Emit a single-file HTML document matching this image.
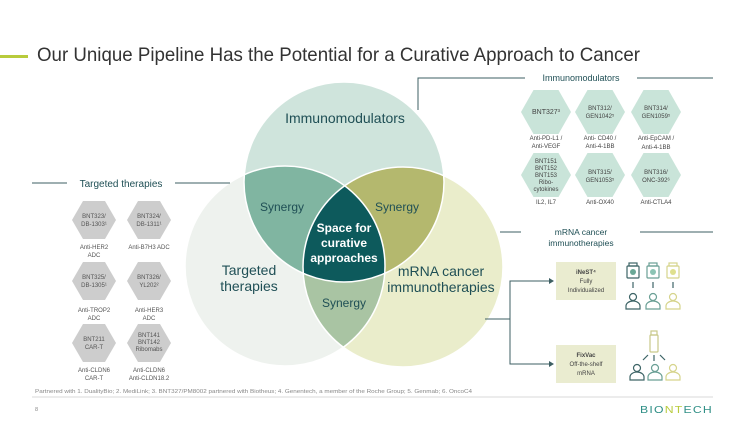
<!DOCTYPE html>
<html><head><meta charset="utf-8"><style>
html,body{margin:0;padding:0;background:#fff;}
svg{display:block;font-family:"Liberation Sans",sans-serif;}
</style></head><body>
<svg width="750" height="422" viewBox="0 0 750 422" xmlns="http://www.w3.org/2000/svg">
<defs>
<clipPath id="cT"><circle cx="344" cy="182" r="100"/></clipPath>
<clipPath id="cL"><circle cx="285" cy="266" r="100"/></clipPath>
<clipPath id="cR"><circle cx="403" cy="267" r="100"/></clipPath>
<g id="hexG"><polygon points="-22,0 -11,-19 11,-19 22,0 11,19 -11,19" fill="#cdcdcd"/></g>
<g id="hexM"><polygon points="-25,0 -12.5,-22 12.5,-22 25,0 12.5,22 -12.5,22" fill="#c9e4d9"/></g>
</defs>
<rect x="0" y="55" width="28" height="3" fill="#b8cb3c"/>
<text x="37" y="61" font-size="19.5" fill="#333" textLength="603" lengthAdjust="spacingAndGlyphs">Our Unique Pipeline Has the Potential for a Curative Approach to Cancer</text>

<circle cx="285" cy="266" r="100" fill="#eef2ee"/>
<circle cx="403" cy="267" r="100" fill="#eaedcb"/>
<circle cx="344" cy="182" r="100" fill="#cfe4dc"/>
<g clip-path="url(#cT)"><circle cx="285" cy="266" r="100" fill="#80b5a1"/><circle cx="403" cy="267" r="100" fill="#b4b86e"/></g>
<g clip-path="url(#cL)"><circle cx="403" cy="267" r="100" fill="#a9c4a3"/></g>
<g clip-path="url(#cT)"><g clip-path="url(#cL)"><circle cx="403" cy="267" r="100" fill="#0d5a5c"/></g></g>
<g fill="none" stroke="#fff" stroke-width="1.5"><circle cx="285" cy="266" r="100"/><circle cx="403" cy="267" r="100"/><circle cx="344" cy="182" r="100"/></g>
<g fill="#1f4f55" font-size="14" text-anchor="middle">
<text x="345" y="123">Immunomodulators</text>
<text x="249" y="275">Targeted</text><text x="249" y="291">therapies</text>
<text x="441" y="276">mRNA cancer</text><text x="441" y="292">immunotherapies</text>
</g>
<g fill="#1f4f55" font-size="12" text-anchor="middle">
<text x="282" y="211">Synergy</text><text x="397" y="211">Synergy</text><text x="344" y="307">Synergy</text>
</g>
<g fill="#fff" font-size="12" font-weight="bold" text-anchor="middle">
<text x="344" y="232">Space for</text><text x="344" y="247">curative</text><text x="344" y="262">approaches</text>
</g>

<g stroke="#3d5f63" stroke-width="1" fill="none">
<polyline points="418,110 418,78 525,78"/>
<line x1="637" y1="78" x2="713" y2="78"/>
<line x1="32" y1="183" x2="67" y2="183"/>
<line x1="175" y1="183" x2="230" y2="183"/>
<line x1="500" y1="232" x2="521" y2="232"/>
<line x1="640" y1="232" x2="713" y2="232"/>
<line x1="485" y1="319" x2="510" y2="319"/>
<polyline points="551,281 510,281 510,364 551,364"/>
</g>
<polygon points="549,278 554,281 549,284" fill="#3d5f63"/>
<polygon points="549,361 554,364 549,367" fill="#3d5f63"/>

<text x="581" y="81" font-size="9" fill="#1f4f55" text-anchor="middle">Immunomodulators</text>
<text x="121" y="187" font-size="10" fill="#1f4f55" text-anchor="middle">Targeted therapies</text>
<text x="581" y="235" font-size="8.5" fill="#1f4f55" text-anchor="middle">mRNA cancer</text>
<text x="581" y="246" font-size="8.5" fill="#1f4f55" text-anchor="middle">immunotherapies</text>

<g font-size="6" fill="#555" text-anchor="middle">
<use href="#hexG" x="94" y="220"/><use href="#hexG" x="149" y="220"/>
<use href="#hexG" x="94" y="281"/><use href="#hexG" x="149" y="281"/>
<use href="#hexG" x="94" y="343"/><use href="#hexG" x="149" y="343"/>
<text x="94" y="218">BNT323/</text><text x="94" y="226">DB-1303¹</text>
<text x="149" y="218">BNT324/</text><text x="149" y="226">DB-1311¹</text>
<text x="94" y="279">BNT325/</text><text x="94" y="287">DB-1305¹</text>
<text x="149" y="279">BNT326/</text><text x="149" y="287">YL202²</text>
<text x="94" y="341">BNT211</text><text x="94" y="349">CAR-T</text>
<text x="149" y="337">BNT141</text><text x="149" y="344">BNT142</text><text x="149" y="351">Ribomabs</text>
<text x="94" y="249">Anti-HER2</text><text x="94" y="257">ADC</text>
<text x="149" y="249">Anti-B7H3 ADC</text>
<text x="94" y="312">Anti-TROP2</text><text x="94" y="320">ADC</text>
<text x="149" y="312">Anti-HER3</text><text x="149" y="320">ADC</text>
<text x="94" y="372">Anti-CLDN6</text><text x="94" y="380">CAR-T</text>
<text x="149" y="372">Anti-CLDN6</text><text x="149" y="380">Anti-CLDN18.2</text>
</g>

<g font-size="6" fill="#444" text-anchor="middle">
<use href="#hexM" x="546" y="112"/><use href="#hexM" x="600" y="112"/><use href="#hexM" x="656" y="112"/>
<use href="#hexM" x="546" y="175"/><use href="#hexM" x="600" y="175"/><use href="#hexM" x="656" y="175"/>
<text x="546" y="114" font-size="7">BNT327³</text>
<text x="600" y="110">BNT312/</text><text x="600" y="118">GEN1042⁵</text>
<text x="656" y="110">BNT314/</text><text x="656" y="118">GEN1059⁵</text>
<text x="546" y="163">BNT151</text><text x="546" y="170">BNT152</text><text x="546" y="177">BNT153</text><text x="546" y="184">Ribo-</text><text x="546" y="191">cytokines</text>
<text x="600" y="174">BNT315/</text><text x="600" y="182">GEN1053⁵</text>
<text x="656" y="174">BNT316/</text><text x="656" y="182">ONC-392⁶</text>
<text x="546" y="140">Anti-PD-L1 /</text><text x="546" y="148">Anti-VEGF</text>
<text x="600" y="140">Anti- CD40 /</text><text x="600" y="148">Anti-4-1BB</text>
<text x="656" y="140">Anti-EpCAM /</text><text x="656" y="149">Anti-4-1BB</text>
<text x="546" y="204">IL2, IL7</text><text x="600" y="204">Anti-OX40</text><text x="656" y="204">Anti-CTLA4</text>
</g>

<rect x="556" y="262" width="60" height="38" fill="#eaecd0"/>
<rect x="556" y="345" width="60" height="38" fill="#eaecd0"/>
<g font-size="6" fill="#444" text-anchor="middle">
<text x="586" y="274" font-weight="bold">iNeST⁴</text><text x="586" y="283">Fully</text><text x="586" y="292">Individualized</text>
<text x="586" y="357" font-weight="bold">FixVac</text><text x="586" y="366">Off-the-shelf</text><text x="586" y="375">mRNA</text>
</g>

<g fill="none" stroke-width="1.2">
<g stroke="#3d6466"><rect x="627" y="266" width="12" height="12" rx="1"/><rect x="629" y="263" width="8" height="3"/><circle cx="633" cy="272" r="3" fill="#6aa896" stroke="none"/><circle cx="633" cy="297" r="3.5"/><path d="M626,309 v-3 a7,5 0 0 1 14,0 v3 z"/></g>
<g stroke="#6a9f95"><rect x="647" y="266" width="12" height="12" rx="1"/><rect x="649" y="263" width="8" height="3"/><circle cx="653" cy="272" r="3" fill="#8cc4b4" stroke="none"/><circle cx="653" cy="297" r="3.5"/><path d="M646,309 v-3 a7,5 0 0 1 14,0 v3 z"/></g>
<g stroke="#d6d48c"><rect x="667" y="266" width="12" height="12" rx="1"/><rect x="669" y="263" width="8" height="3"/><circle cx="673" cy="272" r="3" fill="#dfe08e" stroke="none"/><circle cx="673" cy="297" r="3.5"/><path d="M666,309 v-3 a7,5 0 0 1 14,0 v3 z"/></g>
<g stroke="#3d6466"><line x1="633" y1="282" x2="633" y2="288"/><line x1="653" y1="282" x2="653" y2="288"/><line x1="673" y1="282" x2="673" y2="288"/></g>
<g stroke="#c9c98a"><rect x="650" y="335" width="8" height="17" rx="1"/><rect x="651" y="331" width="6" height="4"/></g>
<g stroke="#3d6466"><line x1="648" y1="355" x2="643" y2="360"/><line x1="654" y1="355" x2="654" y2="361"/><line x1="660" y1="355" x2="665" y2="360"/></g>
<g stroke="#3d6466"><circle cx="637" cy="368" r="3.5"/><path d="M630,380 v-3 a7,5 0 0 1 14,0 v3 z"/></g>
<g stroke="#6a9f95"><circle cx="655" cy="368" r="3.5"/><path d="M648,380 v-3 a7,5 0 0 1 14,0 v3 z"/></g>
<g stroke="#d6d48c"><circle cx="673" cy="368" r="3.5"/><path d="M666,380 v-3 a7,5 0 0 1 14,0 v3 z"/></g>
</g>

<text x="35" y="393" font-size="5" fill="#888" textLength="437" lengthAdjust="spacingAndGlyphs">Partnered with 1. DualityBio; 2. MediLink; 3. BNT327/PM8002 partnered with Biotheus; 4. Genentech, a member of the Roche Group; 5. Genmab; 6. OncoC4</text>
<line x1="32" y1="397" x2="713" y2="397" stroke="#ccc" stroke-width="0.8"/>
<text x="35" y="411" font-size="5.5" fill="#888">8</text>
<text x="640" y="413" font-size="10" letter-spacing="1" fill="#2f8f86" textLength="73" lengthAdjust="spacingAndGlyphs">BIO<tspan fill="#b8cb3c">NT</tspan>ECH</text>
</svg>
</body></html>
